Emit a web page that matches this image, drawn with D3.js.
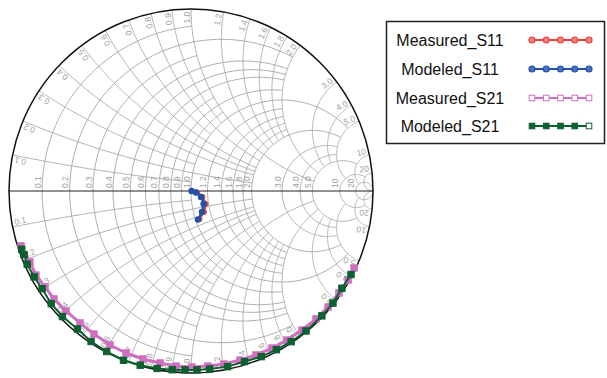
<!DOCTYPE html>
<html>
<head>
<meta charset="utf-8">
<script src="https://cdn.jsdelivr.net/npm/d3@7"></script>
<style>
  body { margin: 0; background: #fff; }
  svg { display: block; }
</style>
</head>
<body>
<svg id="chart" width="607" height="378"></svg>
<script>
// ---- grid definition -------------------------------------------------------
// constant-resistance circles and constant-reactance arcs share the same values;
// gridReach gives how far each curve runs along the other family (Infinity = full)
const gridValues = [0.1, 0.2, 0.3, 0.4, 0.5, 0.6, 0.7, 0.8, 0.9, 1.0,
                    1.2, 1.4, 1.6, 1.8, 2.0, 3.0, 4.0, 5.0, 10, 20];
const gridReach  = [1, 2, 1, 2, 2, 2, 1, 2, 1, 5,
                    2, 2, 2, 2, 5, 5, 5, 10, 20, Infinity];
const gridLabels = ["0.1", "0.2", "0.3", "0.4", "0.5", "0.6", "0.7", "0.8", "0.9", "1.0",
                    "1.2", "1.4", "1.6", "1.8", "2.0", "3.0", "4.0", "5.0", "10", "20"];

// ---- reflection coefficient traces (real / imaginary parts) -----------------
const s11MeasRe = [0.003, 0.033, 0.063, 0.080, 0.071, 0.047];
const s11MeasIm = [0.000, -0.008, -0.033, -0.071, -0.115, -0.154];

const s11ModRe = [0.003, 0.027, 0.055, 0.069, 0.060, 0.038];
const s11ModIm = [0.000, -0.008, -0.033, -0.071, -0.115, -0.157];

const s21MeasRe = [-0.934, -0.885, -0.852, -0.802, -0.753, -0.687, -0.610, -0.533, -0.445,
                   -0.357, -0.264, -0.170, -0.082, 0.005, 0.093, 0.181, 0.269, 0.357,
                   0.445, 0.527, 0.610, 0.687, 0.753, 0.813, 0.863, 0.896];
const s21MeasIm = [-0.302, -0.390, -0.462, -0.527, -0.593, -0.659, -0.725, -0.786, -0.846,
                   -0.890, -0.923, -0.945, -0.962, -0.967, -0.962, -0.951, -0.929, -0.901,
                   -0.863, -0.819, -0.764, -0.703, -0.637, -0.560, -0.489, -0.423];

const s21ModRe = [-0.930, -0.917, -0.900, -0.862, -0.818, -0.768, -0.706, -0.624, -0.549,
                  -0.463, -0.371, -0.279, -0.186, -0.103, -0.033, 0.033, 0.103, 0.201,
                  0.294, 0.386, 0.469, 0.550, 0.632, 0.719, 0.780, 0.829, 0.879];
const s21ModIm = [-0.320, -0.350, -0.402, -0.472, -0.537, -0.619, -0.690, -0.758, -0.827,
                  -0.882, -0.930, -0.957, -0.975, -0.982, -0.983, -0.983, -0.978, -0.965,
                  -0.937, -0.910, -0.872, -0.828, -0.769, -0.686, -0.616, -0.534, -0.459];

const seriesNames = ["Measured_S11", "Modeled_S11", "Measured_S21", "Modeled_S21"];

// ---- layout ----------------------------------------------------------------
const cx = 191, cy = 191, R = 182;
const gx = d3.scaleLinear().domain([-1, 1]).range([cx - R, cx + R]);
const gy = d3.scaleLinear().domain([-1, 1]).range([cy + R, cy - R]);

const svg = d3.select("#chart");
const gridColor = "#adadad";
const labelColor = "#a0a0a0";

svg.append("defs").append("clipPath").attr("id", "unit")
  .append("circle").attr("cx", gx(0)).attr("cy", gy(0)).attr("r", gx(1) - gx(0));

// impedance z = r + jx  ->  reflection coefficient
function gamma(r, x) {
  const den = (r + 1) * (r + 1) + x * x;
  return [(r * r - 1 + x * x) / den, (2 * x) / den];
}

const line = d3.line().x(d => gx(d[0])).y(d => gy(d[1]));
const smooth = d3.line().x(d => gx(d[0])).y(d => gy(d[1])).curve(d3.curveCatmullRom);
const N = 160;

function resistanceCircle(r, reach) {
  const c = r / (1 + r), rad = 1 / (1 + r);
  let a0 = 1e-4;
  if (isFinite(reach)) {
    const p = gamma(r, reach);
    a0 = Math.atan2(p[1], p[0] - c);
  }
  const a1 = 2 * Math.PI - a0;
  return d3.range(N + 1).map(i => {
    const a = a0 + (a1 - a0) * i / N;
    return [c + rad * Math.cos(a), rad * Math.sin(a)];
  });
}

function norm(a) { return (a + 2 * Math.PI) % (2 * Math.PI); }

function reactanceArc(x, reach, sign) {
  const rad = 1 / x, c = [1, 1 / x];
  const p0 = gamma(0, x);
  const a0 = norm(Math.atan2(p0[1] - c[1], p0[0] - c[0]));
  let a1 = 1.5 * Math.PI;
  if (isFinite(reach)) {
    const p1 = gamma(reach, x);
    a1 = norm(Math.atan2(p1[1] - c[1], p1[0] - c[0]));
  }
  return d3.range(N + 1).map(i => {
    const a = a0 + (a1 - a0) * i / N;
    return [c[0] + rad * Math.cos(a), sign * (c[1] + rad * Math.sin(a))];
  });
}

const grid = svg.append("g").attr("clip-path", "url(#unit)")
  .attr("fill", "none").attr("stroke", gridColor).attr("stroke-width", 1);

gridValues.forEach((v, i) => {
  grid.append("path").attr("d", line(resistanceCircle(v, gridReach[i])));
  [1, -1].forEach(s => grid.append("path").attr("d", line(reactanceArc(v, gridReach[i], s))));
});

// resistance labels along the real axis
const labels = svg.append("g").attr("font-family", "Liberation Sans, Arial, sans-serif")
  .attr("font-size", 8.5).attr("fill", labelColor);

gridValues.forEach((v, i) => {
  const px = gx((v - 1) / (v + 1));
  labels.append("text")
    .attr("transform", `translate(${px - 1.5},${cy - 3}) rotate(-90)`)
    .attr("text-anchor", "start")
    .text(gridLabels[i]);
});

// reactance labels just inside the rim, along the radius
const rimLabels = svg.append("g").attr("clip-path", "url(#unit)")
  .attr("font-family", "Liberation Sans, Arial, sans-serif")
  .attr("font-size", 8.5).attr("fill", labelColor);

gridValues.forEach((v, i) => {
  [1, -1].forEach(s => {
    const p = gamma(0, s * v);
    const th = Math.atan2(p[1], p[0]) * 180 / Math.PI;
    let rot = -th, anchor = "end";
    if (rot > 0) { rot -= 180; anchor = "start"; }
    const px = gx(p[0] * 0.985), py = gy(p[1] * 0.985);
    rimLabels.append("text")
      .attr("transform", `translate(${px},${py}) rotate(${rot})`)
      .attr("text-anchor", anchor)
      .attr("dy", -1.5)
      .text(gridLabels[i]);
  });
});

// real axis and outer rim
svg.append("line")
  .attr("x1", gx(-1)).attr("x2", gx(1)).attr("y1", gy(0)).attr("y2", gy(0))
  .attr("stroke", "#222").attr("stroke-width", 1);
svg.append("circle")
  .attr("cx", gx(0)).attr("cy", gy(0)).attr("r", gx(1) - gx(0))
  .attr("fill", "none").attr("stroke", "#111").attr("stroke-width", 1.5);

// ---- traces ----------------------------------------------------------------
const zip = (re, im) => re.map((d, i) => [d, im[i]]);

const styles = [
  { name: seriesNames[0], data: zip(s11MeasRe, s11MeasIm), color: "#e8413f", width: 2, marker: "circle", fill: "#e8413f", size: 2.3, path: smooth },
  { name: seriesNames[1], data: zip(s11ModRe, s11ModIm), color: "#2452a8", width: 2.5, marker: "circle", fill: "#2452a8", size: 2.6, path: smooth },
  { name: seriesNames[2], data: zip(s21MeasRe, s21MeasIm), color: "#cf6fbf", width: 3, marker: "square", fill: "#cf6fbf", size: 3.2, path: line },
  { name: seriesNames[3], data: zip(s21ModRe, s21ModIm), color: "#0d6030", width: 2, marker: "square", fill: "#0d6030", size: 3.2, path: line }
];

const traces = svg.append("g");
function drawMarker(g, x, y, st) {
  if (st.marker === "circle") {
    g.append("circle").attr("cx", x).attr("cy", y).attr("r", st.size)
      .attr("fill", st.fill).attr("stroke", st.color).attr("stroke-width", 1.2);
  } else {
    g.append("rect").attr("x", x - st.size).attr("y", y - st.size)
      .attr("width", 2 * st.size).attr("height", 2 * st.size)
      .attr("fill", st.fill).attr("stroke", st.color).attr("stroke-width", 1);
  }
}

[2, 3, 0, 1].forEach(k => {
  const st = styles[k];
  const g = traces.append("g");
  g.append("path").attr("d", st.path(st.data))
    .attr("fill", "none").attr("stroke", st.color).attr("stroke-width", st.width)
    .attr("stroke-linejoin", "round");
  st.data.forEach(d => drawMarker(g, gx(d[0]), gy(d[1]), st));
});

// ---- legend ----------------------------------------------------------------
const lg = svg.append("g");
lg.append("rect").attr("x", 386.5).attr("y", 21.5).attr("width", 218).attr("height", 122)
  .attr("fill", "#fff").attr("stroke", "#222").attr("stroke-width", 1.5);

const rowY = [40, 69, 98, 126];
const sampleX = d3.scaleLinear().domain([0, 4]).range([532, 589]);
styles.forEach((st, k) => {
  lg.append("text").attr("x", 450).attr("y", rowY[k]).attr("dy", "0.36em")
    .attr("text-anchor", "middle")
    .attr("font-family", "Liberation Sans, Arial, sans-serif").attr("font-size", 16)
    .attr("fill", "#111").text(st.name);
  lg.append("line").attr("x1", sampleX(0)).attr("x2", sampleX(4))
    .attr("y1", rowY[k]).attr("y2", rowY[k])
    .attr("stroke", st.color).attr("stroke-width", 2);
  d3.range(5).forEach(j => {
    const s = Object.assign({}, st, { size: st.marker === "circle" ? 3 : 2.8 });
    if (k === 0) s.fill = "#f2807e";
    if (k === 1) s.fill = "#4a70c0";
    if (k === 2 || (k === 3 && j === 4)) s.fill = "#fff";
    drawMarker(lg, sampleX(j), rowY[k], s);
  });
});
</script>
</body>
</html>
